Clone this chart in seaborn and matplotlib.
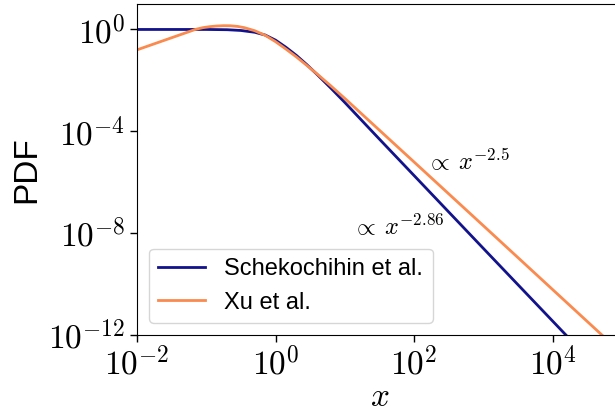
import matplotlib
matplotlib.use("Agg")
import matplotlib.pyplot as plt
import numpy as np
import pandas as pd
import seaborn as sns
from matplotlib.ticker import FixedLocator, FixedFormatter, NullLocator

# Schekochihin et al.: flat core with an x^-2.86 tail
schek_x = [0.01, 0.1, 0.2, 0.316, 0.5, 0.708, 1.0, 1.41, 2.0, 2.82, 3.98,
           6.31, 10.0, 31.6, 100.0, 1000.0, 15500.0, 30000.0]
schek_pdf = [1.0, 1.0, 0.977, 0.912, 0.776, 0.603, 0.380, 0.200, 0.0955,
             0.0417, 0.0170, 4.9e-3, 1.35e-3, 4.9e-5, 1.82e-6, 2.5e-9,
             1.0e-12, 1.5e-13]

# Xu et al.: linear rise, peak near x~0.18, x^-2.5 tail
xu_x = [0.01, 0.0316, 0.0562, 0.0692, 0.0891, 0.112, 0.141, 0.178, 0.224,
        0.282, 0.355, 0.501, 0.708, 1.0, 1.41, 2.0, 2.82, 3.98, 6.31, 10.0,
        31.6, 100.0, 1000.0, 51300.0, 100000.0]
xu_pdf = [0.158, 0.473, 0.818, 1.0, 1.175, 1.288, 1.365, 1.406, 1.396,
          1.318, 1.175, 0.891, 0.589, 0.331, 0.170, 0.0832, 0.0389, 0.0178,
          6.0e-3, 1.95e-3, 1.10e-4, 6.2e-6, 1.95e-8, 1.0e-12, 1.9e-13]

model_names = ["Schekochihin et al.", "Xu et al."]
model_colors = ["#12128c", "#fa8a4e"]

x_ticks = [1e-2, 1e0, 1e2, 1e4]
x_tick_labels = [r"$10^{-2}$", r"$10^{0}$", r"$10^{2}$", r"$10^{4}$"]
y_ticks = [1e-12, 1e-8, 1e-4, 1e0]
y_tick_labels = [r"$10^{-12}$", r"$10^{-8}$", r"$10^{-4}$", r"$10^{0}$"]

slope_labels = [r"$\propto\:x^{-2.5}$", r"$\propto\:x^{-2.86}$"]
slope_label_pos = [(148.0, 3.1e-6), (12.5, 8.5e-9)]

plt.rcParams["font.family"] = ["Liberation Sans", "DejaVu Sans"]
plt.rcParams["mathtext.fontset"] = "cm"

df = pd.concat([
    pd.DataFrame({"x": schek_x, "pdf": schek_pdf, "model": model_names[0]}),
    pd.DataFrame({"x": xu_x, "pdf": xu_pdf, "model": model_names[1]}),
], ignore_index=True)

fig = plt.figure(figsize=(6.15, 4.17), dpi=100)
ax = fig.add_axes([137 / 615, 82 / 417, 485 / 615, 331 / 417])

sns.lineplot(data=df, x="x", y="pdf", hue="model", hue_order=model_names,
             palette=dict(zip(model_names, model_colors)), sort=False,
             estimator=None, linewidth=2.0, ax=ax)

ax.set_xscale("log")
ax.set_yscale("log")
ax.set_xlim(1e-2, 1e5)
ax.set_ylim(1e-12, 1e1)

ax.xaxis.set_major_locator(FixedLocator(x_ticks))
ax.xaxis.set_major_formatter(FixedFormatter(x_tick_labels))
ax.yaxis.set_major_locator(FixedLocator(y_ticks))
ax.yaxis.set_major_formatter(FixedFormatter(y_tick_labels))
ax.xaxis.set_minor_locator(NullLocator())
ax.yaxis.set_minor_locator(NullLocator())
ax.tick_params(axis="both", labelsize=24, length=5, width=1, direction="out")

ax.set_xlabel(r"$x$", fontsize=24, labelpad=0)
ax.set_ylabel("PDF", fontsize=24)

for text, (tx, ty) in zip(slope_labels, slope_label_pos):
    ax.text(tx, ty, text, fontsize=17.5, ha="left", va="baseline")

handles, labels = ax.get_legend_handles_labels()
ax.legend(handles, labels, loc="lower left", fontsize=17)

fig.savefig("out.png", dpi=100)
